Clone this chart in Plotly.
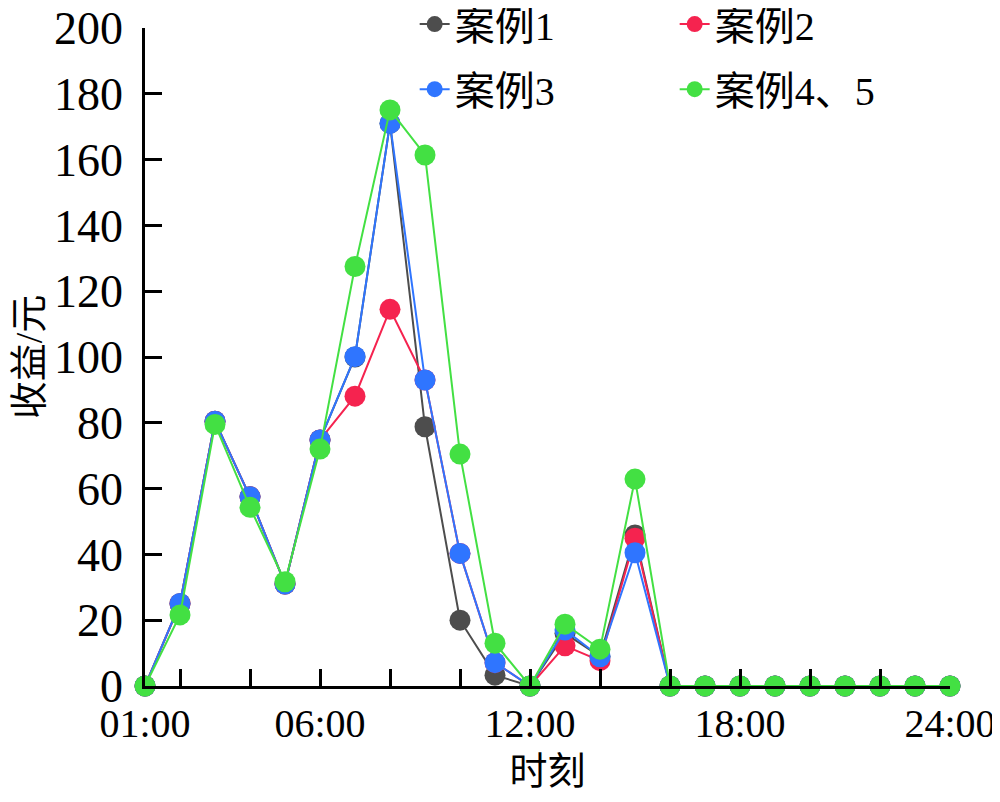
import plotly.graph_objects as go

hours = list(range(1, 25))
case1 = [0, 25, 80.5, 57.5, 31, 74.8, 100, 171, 78.8, 20, 3.3, 0, 16, 9, 45.9, 0, 0, 0, 0, 0, 0, 0, 0, 0]
case2 = [0, 25, 80.5, 57.5, 31, 74.8, 88.1, 114.5, 93, 40.3, 7.1, 0, 12.2, 7.7, 44.9, 0, 0, 0, 0, 0, 0, 0, 0, 0]
case3 = [0, 25.1, 80.5, 57.5, 31, 74.8, 100.1, 171, 93, 40.3, 7.1, 0, 17, 8.9, 40.5, 0, 0, 0, 0, 0, 0, 0, 0, 0]
case45 = [0, 21.6, 79.5, 54.3, 31.7, 72, 127.5, 175.1, 161.4, 70.5, 13, 0, 18.8, 11.2, 62.9, 0, 0, 0, 0, 0, 0, 0, 0, 0]

names = ["案例1", "案例2", "案例3", "案例4、5"]
colors = ["#4d4d4d", "#f5234f", "#2f75ff", "#43e043"]
legends = ["legend", "legend", "legend2", "legend2"]

tick_vals = [1, 2, 4, 6, 8, 10, 12, 14, 16, 18, 20, 22, 24]
tick_text = ["01:00", "", "", "06:00", "", "", "12:00", "", "", "18:00", "", "", "24:00"]
y_ticks = list(range(0, 201, 20))

serif = "Liberation Serif, Noto Sans CJK SC"

fig = go.Figure()
for name, vals, col, lg in zip(names, [case1, case2, case3, case45], colors, legends):
    fig.add_trace(go.Scatter(
        x=hours, y=vals, name=name, mode="lines+markers",
        line=dict(color=col, width=2),
        marker=dict(color=col, size=21),
        cliponaxis=False, legend=lg,
    ))

fig.update_layout(
    width=992, height=784,
    margin=dict(l=137, r=50, t=20, b=106, autoexpand=False),
    paper_bgcolor="white", plot_bgcolor="white",
    font=dict(family=serif, color="black", size=40),
    xaxis=dict(
        range=[1, 24], tickvals=tick_vals, ticktext=tick_text,
        ticks="inside", ticklen=17, tickwidth=2.5, tickcolor="black",
        showline=True, linecolor="black", linewidth=2.5,
        showgrid=False, zeroline=False, automargin=False,
        ticklabeloverflow="allow",
        tickfont=dict(family=serif, size=40),
        title=dict(text="时刻", font=dict(family=serif, size=38)),
    ),
    yaxis=dict(
        range=[0, 200], tickvals=y_ticks,
        ticks="inside", ticklen=17, tickwidth=2.5, tickcolor="black",
        showline=True, linecolor="black", linewidth=2.5,
        showgrid=False, zeroline=False, automargin=False,
        ticklabelstandoff=10, ticklabeloverflow="allow",
        tickfont=dict(family=serif, size=46),
        title=dict(text="收益/元", font=dict(family=serif, size=38)),
    ),
    legend=dict(
        orientation="h", x=0.335, y=1.006, xanchor="left", yanchor="middle",
        entrywidth=215, entrywidthmode="pixels",
        font=dict(family=serif, size=40), bgcolor="rgba(0,0,0,0)",
    ),
    legend2=dict(
        orientation="h", x=0.335, y=0.907, xanchor="left", yanchor="middle",
        entrywidth=215, entrywidthmode="pixels",
        font=dict(family=serif, size=40), bgcolor="rgba(0,0,0,0)",
    ),
)

fig.write_html("out.html")
